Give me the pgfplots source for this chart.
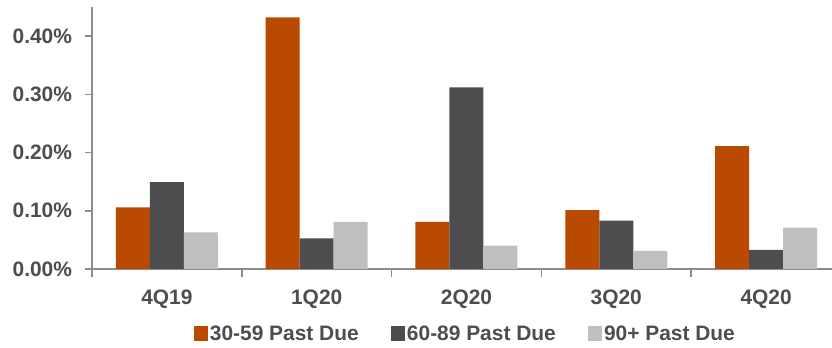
\documentclass[border=0pt]{standalone}
\usepackage{fontspec}
\setmainfont{Liberation Sans}
\usepackage{pgfplots}
\pgfplotsset{compat=1.18}
\definecolor{cOr}{HTML}{B94A00}
\definecolor{cDk}{HTML}{4D4D4F}
\definecolor{cLt}{HTML}{BFBFBF}
\definecolor{cTx}{HTML}{4D4D4F}
\definecolor{cAx}{HTML}{8C8C8C}
\pgfplotsset{sqlegend/.style={legend image code/.code={\fill[##1] (0bp,-3.2bp) rectangle (6.7bp,4.3bp);}}}
\begin{document}
\begin{tikzpicture}
\begin{axis}[
  width=370bp, height=131bp, scale only axis,
  ybar=0pt, bar width=17bp,
  xmin=-0.5, xmax=4.44, ymin=0, ymax=0.45,
  axis x line*=bottom, axis y line*=left,
  axis line style={cAx, line width=0.75bp},
  xtick={0,1,2,3,4}, xticklabels={4Q19,1Q20,2Q20,3Q20,4Q20},
  minor xtick={-0.5,0.5,1.5,2.5,3.5},
  ytick={0,0.1,0.2,0.3,0.4},
  yticklabels={0.00\%,0.10\%,0.20\%,0.30\%,0.40\%},
  tick align=outside,
  major tick length=3.5bp, minor tick length=4bp,
  major x tick style={draw=none},
  minor x tick style={cAx, line width=0.75bp},
  y tick style={cAx, line width=0.75bp},
  tick label style={font=\bfseries\fontsize{10.5}{12}\selectfont, text=cTx},
  yticklabel style={xshift=-3bp},
  xticklabel style={yshift=-3.5bp},
  legend columns=3,
  legend style={draw=none, fill=none, at={(0.505,-0.25)}, anchor=center,
    font=\bfseries\fontsize{10.5}{12}\selectfont, text=cTx,
    /tikz/every even column/.append style={column sep=15bp},
    /tikz/every odd column/.append style={column sep=0bp},
    legend cell align=left, inner sep=0pt},
  legend style={/tikz/every node/.append style={inner xsep=1.2bp}},
]
\addplot[fill=cOr, draw=none, sqlegend] coordinates {(0,0.106) (1,0.432) (2,0.081) (3,0.101) (4,0.211)};
\addplot[fill=cDk, draw=none, sqlegend] coordinates {(0,0.149) (1,0.0525) (2,0.312) (3,0.083) (4,0.033)};
\addplot[fill=cLt, draw=none, sqlegend] coordinates {(0,0.063) (1,0.081) (2,0.040) (3,0.031) (4,0.071)};
\legend{30-59 Past Due,60-89 Past Due,90+ Past Due}
\path (rel axis cs:0,0) coordinate (SW) (rel axis cs:1,1) coordinate (NE);
\end{axis}
\pgfresetboundingbox
\useasboundingbox ([shift={(-46bp,-39.35bp)}]SW) rectangle ([shift={(0bp,3.5bp)}]NE);
\end{tikzpicture}
\end{document}
